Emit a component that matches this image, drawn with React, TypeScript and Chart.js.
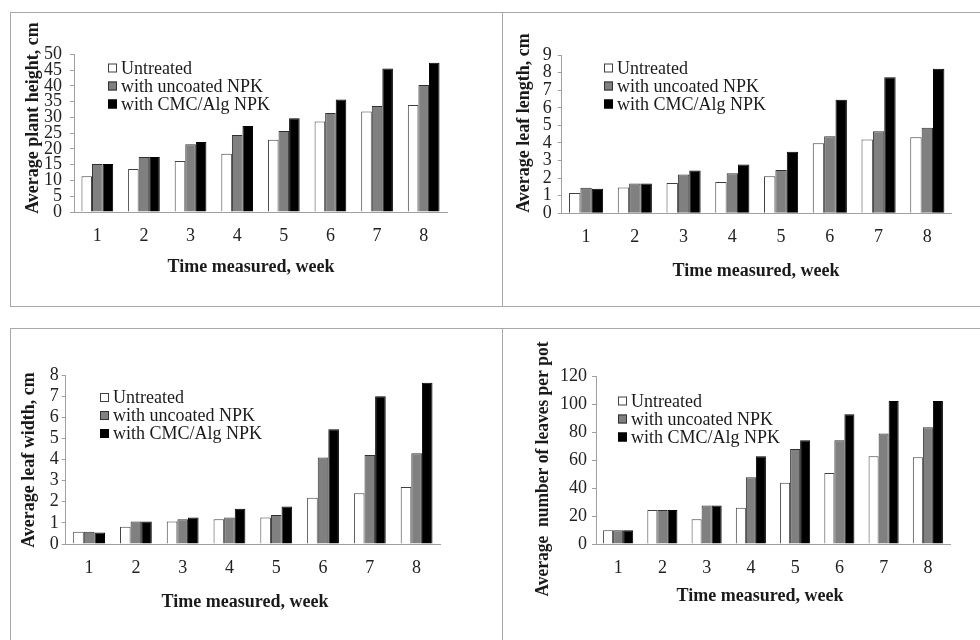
import React, { useEffect, useRef } from "react";
import { Chart, registerables } from "chart.js";

Chart.register(...registerables);

const FONT = '"Liberation Serif", "Times New Roman", Times, serif';

const weeks = ["1", "2", "3", "4", "5", "6", "7", "8"];
const seriesNames = ["Untreated", "with uncoated NPK", "with CMC/Alg NPK"];
const xTitle = "Time measured, week";

// Average plant height, cm
const heightUntreated = [11.3, 13.6, 16.2, 18.5, 22.9, 28.7, 31.9, 33.9];
const heightUncoated = [15.2, 17.4, 21.5, 24.4, 25.7, 31.4, 33.6, 40.3];
const heightCmc = [15.2, 17.4, 22.2, 27.3, 29.7, 35.7, 45.5, 47.3];

// Average leaf length, cm
const lengthUntreated = [1.15, 1.46, 1.72, 1.78, 2.1, 3.98, 4.19, 4.32];
const lengthUncoated = [1.45, 1.7, 2.2, 2.27, 2.46, 4.38, 4.66, 4.87];
const lengthCmc = [1.4, 1.7, 2.44, 2.77, 3.5, 6.46, 7.73, 8.22];

// Average leaf width, cm
const widthUntreated = [0.58, 0.82, 1.07, 1.17, 1.26, 2.19, 2.4, 2.7];
const widthUncoated = [0.58, 1.07, 1.17, 1.26, 1.37, 4.09, 4.21, 4.3];
const widthCmc = [0.54, 1.07, 1.26, 1.67, 1.77, 5.43, 7.0, 7.63];

// Average number of leaves per pot
const leavesUntreated = [9.8, 24.4, 17.7, 26, 44, 51, 62.9, 62.2];
const leavesUncoated = [9.8, 24.4, 27.7, 47.8, 68.2, 74.4, 79.2, 83.7];
const leavesCmc = [9.8, 24.4, 27.7, 62.9, 74.4, 93, 102.6, 102.6];

const fills = ["#ffffff", "#808080", "#000000"];
const strokes = ["#404040", "#303030", "#000000"];

type Spec = {
  canvas: [number, number, number, number];
  area: [number, number, number, number];
  yMax: number;
  yStep: number;
  series: number[][];
  yTitle: string;
  yTitlePos: [number, number];
  yTitleLen?: number;
  xTitlePos: [number, number];
  legendPos: [number, number];
  catPct: number;
  yPad: number;
};

const specs: Spec[] = [
  {
    canvas: [11, 13, 490, 292],
    area: [74, 54.3, 447, 212],
    yMax: 50,
    yStep: 5,
    series: [heightUntreated, heightUncoated, heightCmc],
    yTitle: "Average plant height, cm",
    yTitlePos: [33, 118],
    xTitlePos: [251, 267],
    legendPos: [108, 68],
    catPct: 0.68,
    yPad: 8,
  },
  {
    canvas: [503, 13, 477, 292],
    area: [561.7, 55, 951.7, 213.3],
    yMax: 9,
    yStep: 1,
    series: [lengthUntreated, lengthUncoated, lengthCmc],
    yTitle: "Average leaf length, cm",
    yTitlePos: [524, 123],
    xTitlePos: [756, 271],
    legendPos: [604, 68],
    catPct: 0.7,
    yPad: 6,
  },
  {
    canvas: [11, 329, 490, 311],
    area: [65.7, 375, 440, 544],
    yMax: 8,
    yStep: 1,
    series: [widthUntreated, widthUncoated, widthCmc],
    yTitle: "Average leaf width, cm",
    yTitlePos: [29, 460],
    xTitlePos: [245, 602],
    legendPos: [100, 397.5],
    catPct: 0.68,
    yPad: 3,
  },
  {
    canvas: [503, 329, 477, 311],
    area: [596, 376.7, 950, 544],
    yMax: 120,
    yStep: 20,
    series: [leavesUntreated, leavesUncoated, leavesCmc],
    yTitle: "Average  number of leaves per pot",
    yTitlePos: [543, 469],
    yTitleLen: 255,
    xTitlePos: [760, 596],
    legendPos: [618, 401],
    catPct: 0.68,
    yPad: 5,
  },
];

function Panel({ spec }: { spec: Spec }) {
  const ref = useRef<HTMLCanvasElement | null>(null);
  useEffect(() => {
    if (!ref.current) return;
    const [cx, cy, cw, ch] = spec.canvas;
    const [l, t, r, b] = spec.area;
    const Y_W = 40;
    const X_H = 40;
    const padding = {
      left: l - cx - Y_W,
      top: t - cy,
      right: cx + cw - r,
      bottom: cy + ch - b - X_H,
    };
    const decor = {
      id: "decor",
      afterDraw(chart: any) {
        const ctx = chart.ctx as CanvasRenderingContext2D;
        ctx.save();
        ctx.fillStyle = "#1a1a1a";
        ctx.font = `bold 18px ${FONT}`;
        ctx.textAlign = "center";
        ctx.textBaseline = "middle";
        ctx.fillText(xTitle, spec.xTitlePos[0] - cx, spec.xTitlePos[1] - cy);
        ctx.save();
        ctx.translate(spec.yTitlePos[0] - cx, spec.yTitlePos[1] - cy);
        ctx.rotate(-Math.PI / 2);
        if (spec.yTitleLen) {
          const w = ctx.measureText(spec.yTitle).width;
          ctx.scale(spec.yTitleLen / w, 1);
        }
        ctx.fillText(spec.yTitle, 0, 0);
        ctx.restore();
        ctx.font = `18px ${FONT}`;
        ctx.textAlign = "left";
        chart.data.datasets.forEach((ds: any, i: number) => {
          const x = spec.legendPos[0] - cx;
          const y = spec.legendPos[1] - cy + i * 18;
          ctx.fillStyle = ds.backgroundColor;
          ctx.fillRect(x, y - 4.5, 9, 9);
          ctx.strokeStyle = ds.borderColor;
          ctx.lineWidth = 1;
          ctx.strokeRect(x + 0.5, y - 4, 8, 8);
          ctx.fillStyle = "#1a1a1a";
          ctx.fillText(ds.label, x + 13, y + 1);
        });
        ctx.restore();
      },
    };
    const chart = new Chart(ref.current, {
      type: "bar",
      data: {
        labels: weeks,
        datasets: spec.series.map((vals, i) => ({
          label: seriesNames[i],
          data: vals,
          backgroundColor: fills[i],
          borderColor: strokes[i],
          borderWidth: 1,
          barPercentage: 1,
          categoryPercentage: spec.catPct,
        })),
      },
      options: {
        responsive: false,
        animation: false,
        layout: { padding },
        plugins: {
          legend: { display: false },
          tooltip: { enabled: false },
          title: { display: false },
        },
        scales: {
          x: {
            grid: { display: false },
            border: { display: true, color: "#a0a0a0", width: 1 },
            ticks: {
              font: { family: FONT, size: 18 },
              color: "#222",
              padding: 5,
              maxRotation: 0,
              autoSkip: false,
            },
            afterFit: (s: any) => {
              s.height = X_H;
            },
          },
          y: {
            min: 0,
            max: spec.yMax,
            grid: {
              drawOnChartArea: false,
              drawTicks: true,
              tickLength: 4,
              color: "#a0a0a0",
            },
            border: { display: true, color: "#a0a0a0", width: 1 },
            ticks: {
              stepSize: spec.yStep,
              autoSkip: false,
              font: { family: FONT, size: 18 },
              color: "#222",
              padding: spec.yPad,
            },
            afterFit: (s: any) => {
              s.width = Y_W;
            },
          },
        },
      } as any,
      plugins: [decor],
    });
    return () => chart.destroy();
  }, [spec]);
  const [x, y, w, h] = spec.canvas;
  return (
    <canvas
      ref={ref}
      width={w}
      height={h}
      style={{ position: "absolute", left: x, top: y, width: w, height: h, display: "block" }}
    />
  );
}

const boxStyle = (left: number, top: number, width: number, height: number): React.CSSProperties => ({
  position: "absolute",
  left,
  top,
  width,
  height,
  border: "1px solid #a8a8a8",
  boxSizing: "border-box",
});

export default function App() {
  return (
    <div
      style={{
        position: "fixed",
        left: 0,
        top: 0,
        width: 980,
        height: 640,
        background: "#ffffff",
        overflow: "hidden",
      }}
    >
      <div style={boxStyle(10, 12, 493, 295)} />
      <div style={boxStyle(502, 12, 500, 295)} />
      <div style={boxStyle(10, 328, 493, 400)} />
      <div style={boxStyle(502, 328, 500, 400)} />
      {specs.map((s, i) => (
        <Panel key={i} spec={s} />
      ))}
    </div>
  );
}
